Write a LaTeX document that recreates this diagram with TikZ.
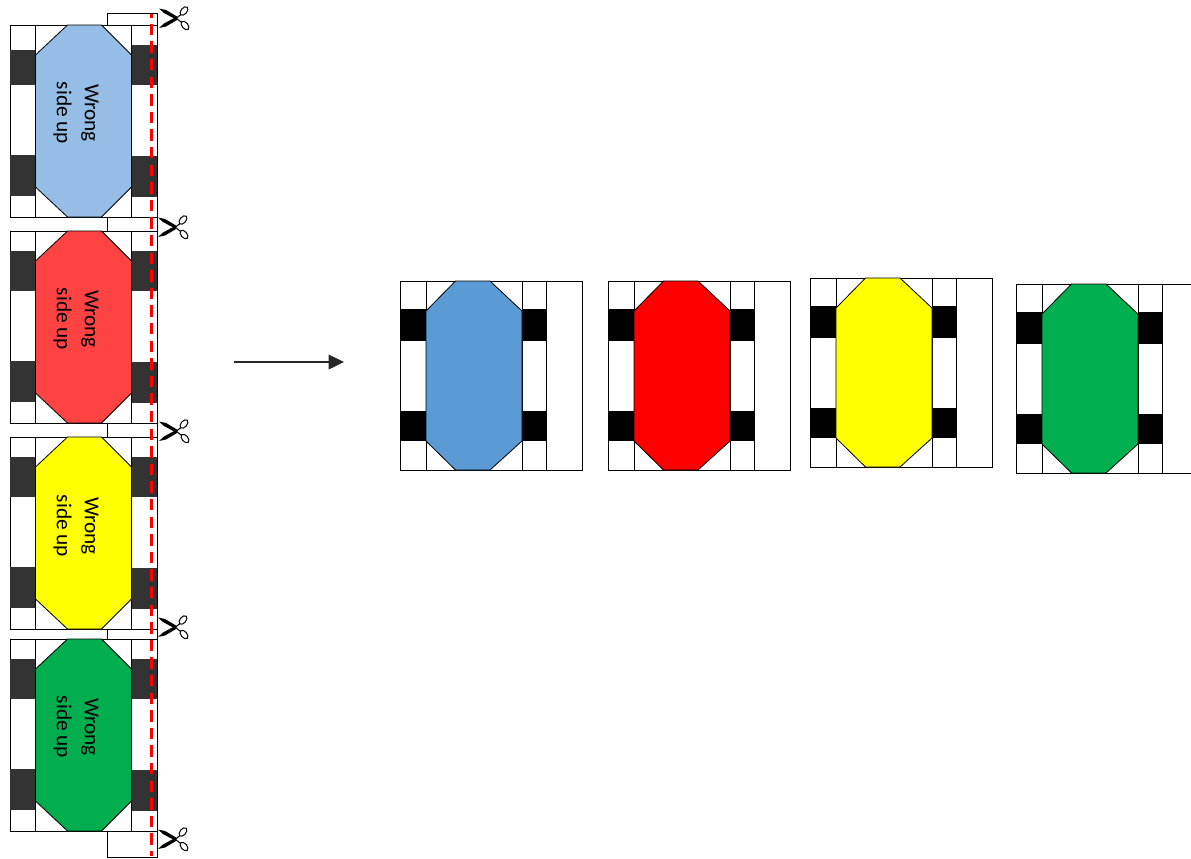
\documentclass[tikz,border=0pt]{standalone}
\usepackage{fontspec}
\setmainfont{Carlito}
\usetikzlibrary{arrows.meta}
\tikzset{
  frameline/.style={draw=black,line width=0.72pt,fill=white},
  darkblock/.style={fill=black!80,draw=none},
  blackblock/.style={fill=black,draw=none},
  octa/.style={draw=black,line width=0.6pt},
  cutline/.style={draw=red,line width=2.3pt,dash pattern=on 8.5pt off 4.7pt,dash phase=5.8pt},
  wronglabel/.style={rotate=-90,align=center,font=\fontsize{16}{21}\selectfont,text=black,inner sep=0pt},
  flowarrow/.style={draw=black!85,line width=0.9pt,-{Triangle[length=11.5pt,width=11pt]}},
  pics/scissors/.style={code={
    \fill[black] (-14,-9.5) -- (-7,-8) -- (4,-1.5) -- (3,1.5) -- (-9,-5) -- cycle;
    \fill[black] (-14,10) -- (-7,8.5) -- (4,2) -- (3,-1) -- (-9,5.5) -- cycle;
    \draw[black,line width=0.8pt] (3,0.5) -- (8,-3.5) (3,0) -- (8,4);
    \draw[black,line width=0.75pt,rotate around={50:(11,-7)}] (11,-7) ellipse (5 and 3);
    \draw[black,line width=0.75pt,rotate around={-50:(12,7.5)}] (12,7.5) ellipse (5 and 3);
  }}
}
\newcommand{\stripbox}[2]{\draw[frameline] (107,#1) rectangle (157,#2);}
\newcommand{\leftpanel}[5]{% top, left block offset, colour, label y, name
  \pgfmathsetmacro{\yt}{#1}
  \draw[frameline] (10,\yt) rectangle (157,\yt+192);
  \fill[darkblock] (10,\yt+#2) rectangle (35.5,\yt+60);
  \fill[darkblock] (10,\yt+130) rectangle (35.5,\yt+171);
  \fill[darkblock] (131.5,\yt+20) rectangle (157,\yt+60);
  \fill[darkblock] (131.5,\yt+131) rectangle (157,\yt+172);
  \draw[frameline,fill=none] (35.5,\yt) -- (35.5,\yt+192) (131.5,\yt) -- (131.5,\yt+192);
  \draw[octa,fill=#3] (67.5,\yt) -- (101.5,\yt) -- (131.5,\yt+30) -- (131.5,\yt+162) -- (101.5,\yt+192) -- (67.5,\yt+192) -- (35.5,\yt+162) -- (35.5,\yt+30) -- cycle;
  \node[wronglabel] (#5) at (76,#4) {Wrong\\side up};
}
\newcommand{\rightpanel}[3]{% x left, top, colour
  \pgfmathsetmacro{\xl}{#1}
  \pgfmathsetmacro{\yt}{#2}
  \draw[frameline] (\xl,\yt) rectangle (\xl+182,\yt+189);
  \fill[blackblock] (\xl,\yt+28) rectangle (\xl+26,\yt+60);
  \fill[blackblock] (\xl,\yt+130) rectangle (\xl+26,\yt+160);
  \fill[blackblock] (\xl+122,\yt+28) rectangle (\xl+146,\yt+60);
  \fill[blackblock] (\xl+122,\yt+130) rectangle (\xl+146,\yt+160);
  \draw[frameline,fill=none] (\xl+26,\yt) -- (\xl+26,\yt+189) (\xl+122,\yt) -- (\xl+122,\yt+189) (\xl+146,\yt) -- (\xl+146,\yt+189);
  \draw[octa,fill=#3] (\xl+55.5,\yt) -- (\xl+90,\yt) -- (\xl+122,\yt+30) -- (\xl+122,\yt+160) -- (\xl+90,\yt+189) -- (\xl+55.5,\yt+189) -- (\xl+26,\yt+160) -- (\xl+26,\yt+30) -- cycle;
}
\definecolor{lblue}{HTML}{95BDE5}
\definecolor{lred}{HTML}{FF4343}
\definecolor{lgreen}{HTML}{00AE4F}
\definecolor{lyellow}{RGB}{255,255,0}
\definecolor{rblue}{HTML}{5B9BD5}
\definecolor{rred}{RGB}{255,0,0}
\definecolor{rgreen}{HTML}{00B050}
\begin{document}
\begin{tikzpicture}[x=0.75pt,y=-0.75pt]
\useasboundingbox (0,0) rectangle (1191,858);
\begin{scope}
\clip (0,0) rectangle (1191,858);
\stripbox{13}{25}
\stripbox{217}{231}
\stripbox{423}{437}
\stripbox{629}{639}
\stripbox{831}{857}
\leftpanel{25}{25}{lblue}{113}{lab1}
\leftpanel{231}{20}{lred}{319}{lab2}
\leftpanel{437}{20}{lyellow}{526}{lab3}
\leftpanel{639}{20}{lgreen}{727}{lab4}
\coordinate (cuttop) at (151.5,14);
\coordinate (cutbot) at (151.5,856);
\draw[cutline] (cuttop) -- (cutbot);
\pic at (173,18) {scissors};
\pic at (172,227) {scissors};
\pic at (173,431) {scissors};
\pic at (172,627) {scissors};
\pic at (172,839) {scissors};
\coordinate (arrowstart) at (234,362);
\coordinate (arrowend) at (344,362);
\draw[flowarrow] (arrowstart) -- (arrowend);
\rightpanel{400}{281}{rblue}
\rightpanel{608}{281}{rred}
\rightpanel{810}{278}{lyellow}
\rightpanel{1016}{284}{rgreen}
\end{scope}
\end{tikzpicture}
\end{document}
